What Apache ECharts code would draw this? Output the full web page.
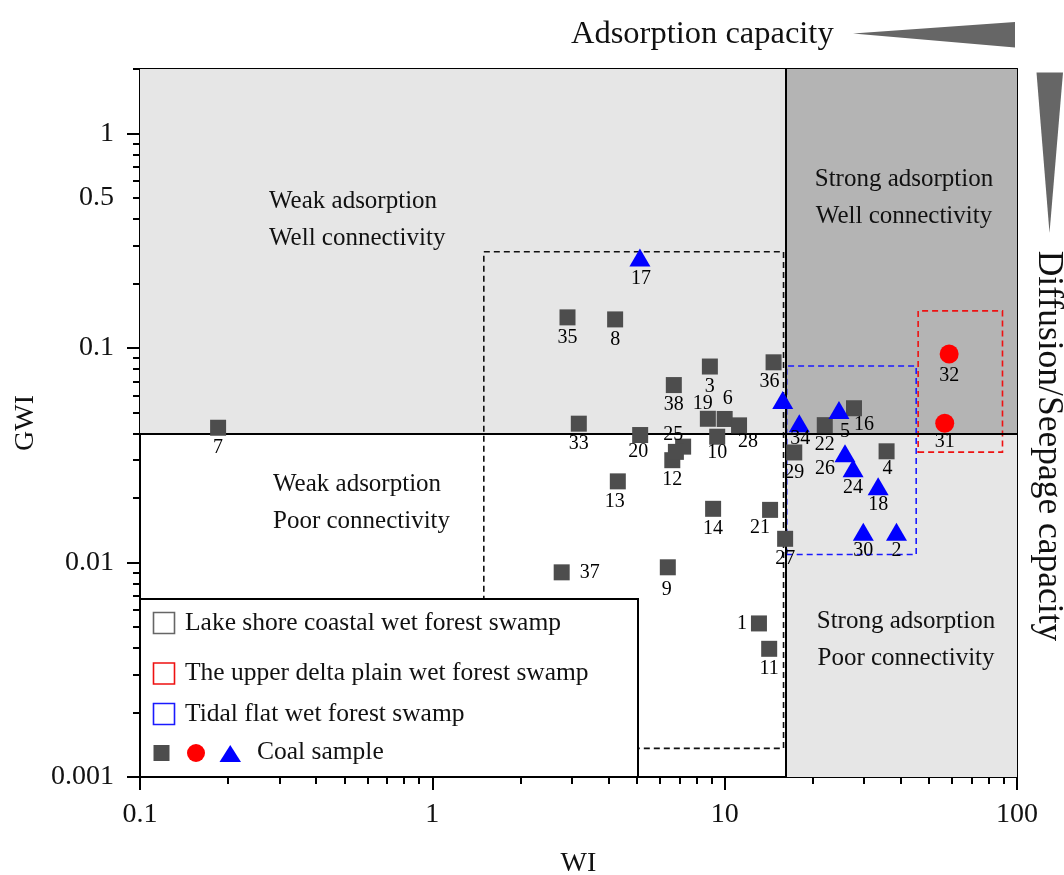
<!DOCTYPE html>
<html>
<head>
<meta charset="utf-8">
<script src="https://cdn.jsdelivr.net/npm/echarts@6/dist/echarts.min.js"></script>
<style>
  html, body { margin: 0; padding: 0; background: #ffffff; }
  #chart { width: 1064px; height: 875px; }
</style>
</head>
<body>
<div id="chart"></div>
<script>
// ---- Coal samples: well index (WI) vs. gas-water index (GWI) ----
// Lake shore coastal wet forest swamp (grey squares)
const lakeIds = ['1', '3', '4', '6', '7', '8', '9', '10', '11', '12', '13', '14', '16', '19',
                 '20', '21', '22', '25', '', '27', '28', '29', '33', '35', '36', '37', '38'];
const lakeWI  = [13.1, 8.9, 35.8, 10.0, 0.185, 4.22, 6.39, 9.43, 14.2, 6.62, 4.31, 9.13, 27.7, 8.76,
                 5.14, 14.3, 22.0, 7.21, 6.81, 16.1, 11.2, 17.3, 3.17, 2.90, 14.7, 2.77, 6.70];
const lakeGWI = [0.0052, 0.082, 0.033, 0.0467, 0.0425, 0.136, 0.0095, 0.0386, 0.00396, 0.030, 0.0239, 0.0178, 0.0524, 0.0468,
                 0.0393, 0.0176, 0.0437, 0.0347, 0.0328, 0.0129, 0.0436, 0.0326, 0.0444, 0.139, 0.0858, 0.0090, 0.0672];

// The upper delta plain wet forest swamp (red circles)
const deltaIds = ['31', '32'];
const deltaWI  = [56.6, 58.6];
const deltaGWI = [0.0446, 0.0938];

// Tidal flat wet forest swamp (blue triangles)
const tidalIds = ['2', '5', '17', '18', '24', '26', '30', '34', ''];
const tidalWI  = [38.7, 24.6, 5.13, 33.5, 27.5, 25.8, 29.8, 18.0, 15.8];
const tidalGWI = [0.0139, 0.0514, 0.264, 0.0227, 0.0275, 0.0323, 0.0139, 0.0446, 0.0572];

// Classification thresholds
const WI_CUT = 16.2;
const GWI_CUT = 0.04;

// Axis ranges and tick values
const WI_RANGE = [0.1, 100];
const GWI_RANGE = [0.001, 2];
const wiMajor = [0.1, 1, 10, 100];
const wiMinor = [0.2, 0.3, 0.4, 0.5, 0.6, 0.7, 0.8, 0.9, 2, 3, 4, 5, 6, 7, 8, 9, 20, 30, 40, 50, 60, 70, 80, 90];
const gwiLabels = [0.001, 0.01, 0.1, 0.5, 1];
const gwiMajor = [0.001, 0.01, 0.1, 1];
const gwiMinor = [0.002, 0.003, 0.004, 0.005, 0.006, 0.007, 0.008, 0.009,
                  0.02, 0.03, 0.04, 0.05, 0.06, 0.07, 0.08, 0.09,
                  0.2, 0.3, 0.4, 0.5, 0.6, 0.7, 0.8, 0.9, 2];

// Outline boxes of the three sedimentary environments: [WI lo, GWI lo, WI hi, GWI hi]
const lakeBox  = [1.5, 0.00136, 15.9, 0.281];
const tidalBox = [16.3, 0.0109, 45.2, 0.0824];
const deltaBox = [45.9, 0.0327, 89.2, 0.149];

const legendNames = ['Lake shore coastal wet forest swamp', 'The upper delta plain wet forest swamp',
                     'Tidal flat wet forest swamp', 'Coal sample'];

// ---- styling ----
const SERIF = "'Liberation Serif', 'Times New Roman', Times, serif";
const GREY = '#4d4d4d', RED = '#ff0000', BLUE = '#0000ff';

// individual label placements where the default (below the mark) would collide
const labelTweaks = {
  '1':  { position: 'left', distance: 4 },
  '37': { position: 'right', distance: 10 },
  '6':  { position: 'top', offset: [3, 0] },
  '19': { position: 'top', offset: [-5, 5] },
  '25': { position: 'top', offset: [-10, 8] },
  '16': { offset: [10, -3] },
  '5':  { offset: [6, 3] },
  '26': { offset: [-20, -4] },
  '21': { offset: [-10, -2] },
  '28': { offset: [9, -4] },
  '36': { offset: [-4, -1] },
  '10': { offset: [0, -4] },
  '20': { offset: [-2, -3] },
  '34': { offset: [1, -4] },
  '13': { offset: [-3, 0] },
  '4':  { offset: [1, -3] },
  '31': { offset: [0, -3] },
  '9':  { offset: [-1, 2] },
  '17': { offset: [1, 2] }
};

function buildPoints(ids, xs, ys) {
  return ids.map((id, i) => ({
    name: id,
    value: [xs[i], ys[i]],
    label: Object.assign({}, labelTweaks[id] || {})
  }));
}

const pointLabel = {
  show: true,
  formatter: '{b}',
  position: 'bottom',
  distance: 2,
  color: '#000',
  opacity: 1,
  fontFamily: SERIF,
  fontSize: 20
};

function boxArea(b, color) {
  return [
    { coord: [b[0], b[1]], itemStyle: { color: 'rgba(0,0,0,0)', borderColor: color, borderWidth: 1.6, borderType: [6, 4] } },
    { coord: [b[2], b[3]] }
  ];
}

const chart = echarts.init(document.getElementById('chart'), null, { renderer: 'canvas' });

const axisText = { fontFamily: SERIF, fontSize: 28, color: '#111' };
const LEGEND_FONT = '25.5px ' + SERIF;
const ZONE_FONT = '25px ' + SERIF;

const option = {
  animation: false,
  backgroundColor: '#ffffff',
  grid: { left: 140, right: 47, top: 69, bottom: 98, containLabel: false, outerBoundsMode: 'none' },
  xAxis: [
    {
      type: 'log', logBase: 10, min: WI_RANGE[0], max: WI_RANGE[1], position: 'bottom',
      name: 'WI', nameLocation: 'middle', nameGap: 73,
      nameTextStyle: Object.assign({}, axisText),
      axisLine: { show: true, onZero: false, lineStyle: { color: '#000', width: 2 } },
      axisTick: { show: true, inside: false, length: 13, lineStyle: { color: '#000', width: 2 }, customValues: wiMajor },
      axisLabel: Object.assign({ margin: 24, customValues: wiMajor }, axisText),
      splitLine: { show: false }
    },
    {
      type: 'log', logBase: 10, min: WI_RANGE[0], max: WI_RANGE[1], position: 'bottom',
      axisLine: { show: false },
      axisTick: { show: true, inside: false, length: 7, lineStyle: { color: '#000', width: 2 }, customValues: wiMinor },
      axisLabel: { show: false },
      splitLine: { show: false }
    },
    {
      type: 'log', logBase: 10, min: WI_RANGE[0], max: WI_RANGE[1], position: 'top',
      axisLine: { show: true, onZero: false, lineStyle: { color: '#000', width: 2 } },
      axisTick: { show: false }, axisLabel: { show: false }, splitLine: { show: false }
    }
  ],
  yAxis: [
    {
      type: 'log', logBase: 10, min: GWI_RANGE[0], max: GWI_RANGE[1], position: 'left',
      name: 'GWI', nameLocation: 'middle', nameGap: 98,
      nameTextStyle: Object.assign({}, axisText),
      axisLine: { show: true, onZero: false, lineStyle: { color: '#000', width: 2 } },
      axisTick: { show: true, inside: false, length: 13, lineStyle: { color: '#000', width: 2 }, customValues: gwiMajor },
      axisLabel: Object.assign({ margin: 26, customValues: gwiLabels }, axisText),
      splitLine: { show: false }
    },
    {
      type: 'log', logBase: 10, min: GWI_RANGE[0], max: GWI_RANGE[1], position: 'left',
      axisLine: { show: false },
      axisTick: { show: true, inside: false, length: 7, lineStyle: { color: '#000', width: 2 }, customValues: gwiMinor },
      axisLabel: { show: false },
      splitLine: { show: false }
    },
    {
      type: 'log', logBase: 10, min: GWI_RANGE[0], max: GWI_RANGE[1], position: 'right',
      axisLine: { show: true, onZero: false, lineStyle: { color: '#000', width: 2 } },
      axisTick: { show: false }, axisLabel: { show: false }, splitLine: { show: false }
    }
  ],
  series: [
    {
      // quadrant shading, threshold lines and environment outlines
      name: 'zones', type: 'scatter', xAxisIndex: 0, yAxisIndex: 0, data: [], z: 1,
      silent: true,
      markArea: {
        silent: true, z: 1,
        label: { show: false },
        data: [
          [{ coord: [WI_RANGE[0], GWI_CUT], itemStyle: { color: '#e6e6e6' } }, { coord: [WI_CUT, GWI_RANGE[1]] }],
          [{ coord: [WI_CUT, GWI_CUT], itemStyle: { color: '#b4b4b4' } }, { coord: [WI_RANGE[1], GWI_RANGE[1]] }],
          [{ coord: [WI_CUT, GWI_RANGE[0]], itemStyle: { color: '#e6e6e6' } }, { coord: [WI_RANGE[1], GWI_CUT] }],
          boxArea(lakeBox, '#111111'),
          boxArea(tidalBox, '#1a1aff'),
          boxArea(deltaBox, '#ee1111')
        ]
      },
      markLine: {
        silent: true, z: 1.5,
        symbol: ['none', 'none'],
        label: { show: false },
        lineStyle: { color: '#000', width: 2, type: 'solid' },
        data: [{ xAxis: WI_CUT }, { yAxis: GWI_CUT }]
      }
    },
    {
      name: legendNames[0], type: 'scatter', xAxisIndex: 0, yAxisIndex: 0, z: 3,
      symbol: 'rect', symbolSize: 16,
      itemStyle: { color: GREY, opacity: 1 },
      label: pointLabel,
      data: buildPoints(lakeIds, lakeWI, lakeGWI)
    },
    {
      name: legendNames[1], type: 'scatter', xAxisIndex: 0, yAxisIndex: 0, z: 3,
      symbol: 'circle', symbolSize: 19,
      itemStyle: { color: RED, opacity: 1 },
      label: pointLabel,
      data: buildPoints(deltaIds, deltaWI, deltaGWI)
    },
    {
      name: legendNames[2], type: 'scatter', xAxisIndex: 0, yAxisIndex: 0, z: 3,
      symbol: 'triangle', symbolSize: [21, 18],
      itemStyle: { color: BLUE, opacity: 1 },
      label: Object.assign({}, pointLabel, { distance: 0 }),
      data: buildPoints(tidalIds, tidalWI, tidalGWI)
    }
  ],
  graphic: [
    // quadrant captions
    { type: 'text', x: 269, y: 220, z: 10, style: { text: 'Weak adsorption\nWell connectivity', font: ZONE_FONT, fill: '#111', lineHeight: 37, align: 'left', verticalAlign: 'middle' } },
    { type: 'text', x: 273, y: 503, z: 10, style: { text: 'Weak adsorption\nPoor connectivity', font: ZONE_FONT, fill: '#111', lineHeight: 37, align: 'left', verticalAlign: 'middle' } },
    { type: 'text', x: 904, y: 198, z: 10, style: { text: 'Strong adsorption\nWell connectivity', font: ZONE_FONT, fill: '#111', lineHeight: 37, align: 'center', verticalAlign: 'middle' } },
    { type: 'text', x: 906, y: 640, z: 10, style: { text: 'Strong adsorption\nPoor connectivity', font: ZONE_FONT, fill: '#111', lineHeight: 37, align: 'center', verticalAlign: 'middle' } },

    // capacity trend wedges
    { type: 'text', x: 571, y: 34, z: 10, style: { text: 'Adsorption capacity', font: '32.5px ' + SERIF, fill: '#111', align: 'left', verticalAlign: 'middle' } },
    { type: 'polygon', z: 10, shape: { points: [[853, 33.5], [1015, 22], [1015, 47.5]] }, style: { fill: '#666666' } },
    { type: 'text', x: 1048, y: 446, rotation: -Math.PI / 2, z: 10, style: { text: 'Diffusion/Seepage capacity', font: '35.5px ' + SERIF, fill: '#111', align: 'center', verticalAlign: 'middle' } },
    { type: 'polygon', z: 10, shape: { points: [[1036.5, 72.5], [1063, 72.5], [1049.5, 233]] }, style: { fill: '#666666' } },

    // legend box
    { type: 'rect', z: 50, shape: { x: 140, y: 599, width: 498, height: 178 }, style: { fill: '#ffffff', stroke: '#000', lineWidth: 2 } },
    { type: 'rect', z: 51, shape: { x: 153.5, y: 612.5, width: 21, height: 21 }, style: { fill: 'none', stroke: '#666666', lineWidth: 1.6 } },
    { type: 'text', x: 185, y: 623, z: 51, style: { text: legendNames[0], font: LEGEND_FONT, fill: '#111', align: 'left', verticalAlign: 'middle' } },
    { type: 'rect', z: 51, shape: { x: 153.5, y: 663, width: 21, height: 21 }, style: { fill: 'none', stroke: '#ee1111', lineWidth: 1.6 } },
    { type: 'text', x: 185, y: 673, z: 51, style: { text: legendNames[1], font: LEGEND_FONT, fill: '#111', align: 'left', verticalAlign: 'middle' } },
    { type: 'rect', z: 51, shape: { x: 153.5, y: 703.5, width: 21, height: 21 }, style: { fill: 'none', stroke: '#1a1aff', lineWidth: 1.6 } },
    { type: 'text', x: 185, y: 714, z: 51, style: { text: legendNames[2], font: LEGEND_FONT, fill: '#111', align: 'left', verticalAlign: 'middle' } },
    { type: 'rect', z: 51, shape: { x: 153.5, y: 745, width: 16, height: 16 }, style: { fill: GREY } },
    { type: 'circle', z: 51, shape: { cx: 196, cy: 753, r: 9 }, style: { fill: RED } },
    { type: 'polygon', z: 51, shape: { points: [[219.5, 762], [241, 762], [230.25, 745]] }, style: { fill: BLUE } },
    { type: 'text', x: 257, y: 752, z: 51, style: { text: legendNames[3], font: LEGEND_FONT, fill: '#111', align: 'left', verticalAlign: 'middle' } }
  ]
};

chart.setOption(option);
</script>
</body>
</html>
